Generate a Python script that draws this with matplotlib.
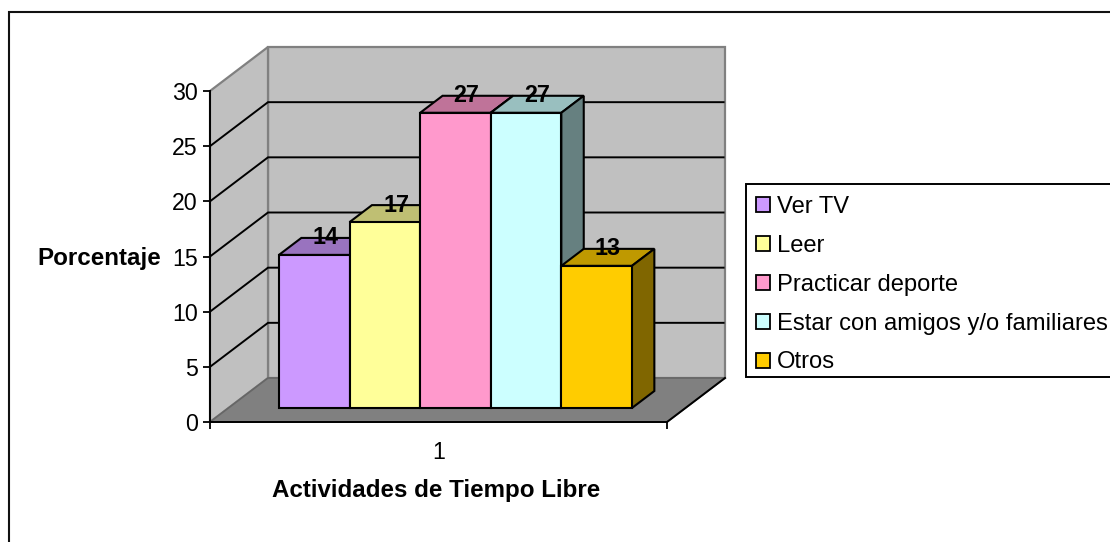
import matplotlib
matplotlib.use("Agg")
import matplotlib.pyplot as plt
from matplotlib.patches import Polygon, Rectangle, Patch

categories = ["Ver TV", "Leer", "Practicar deporte", "Estar con amigos y/o familiares", "Otros"]
values = [14, 17, 27, 27, 13]
colors = ["#CC99FF", "#FFFF99", "#FF99CC", "#CCFFFF", "#FFCC00"]
top_colors = ["#9973BF", "#BFBF73", "#BF7399", "#99BFBF", "#BF9900"]
side_colors = ["#664D80", "#808040", "#804D66", "#668080", "#806600"]
y_ticks = [0, 5, 10, 15, 20, 25, 30]
x_group_label = "1"
x_title = "Actividades de Tiempo Libre"
y_title = "Porcentaje"

W, H = 1110, 542
PX_LEFT, PX_RIGHT, PX_TOP, PX_BOTTOM = 210, 667, 91, 422
X0, X1 = -0.715, 5.758
unit_x = (PX_RIGHT - PX_LEFT) / (X1 - X0)
unit_y = (PX_BOTTOM - PX_TOP) / 30
DX = 58 / unit_x      # back wall shift in data units
DY = 44 / unit_y
D_FRONT, D_BACK = 14 / 44, 31 / 44   # bar depth range
HEIGHT_K = 0.991
FS_TICK = 16.7
FS_TITLE = 17.4
FS_LEG = 17.1
FS_DATA = 16.8

plt.rcParams["font.family"] = ["Liberation Sans", "DejaVu Sans"]
fig = plt.figure(figsize=(W / 100, H / 100), dpi=100, facecolor="white")
ax = fig.add_axes([PX_LEFT / W, 1 - PX_BOTTOM / H, (PX_RIGHT - PX_LEFT) / W, (PX_BOTTOM - PX_TOP) / H])
ax.set_xlim(X0, X1)
ax.set_ylim(0, 30)
ax.patch.set_visible(False)


def proj(x, y, d):
    return (x + d * DX, y + d * DY)


def poly(points, fc, ec, lw=1.5, z=2):
    ax.add_patch(Polygon(points, closed=True, facecolor=fc, edgecolor=ec, linewidth=lw,
                         joinstyle="miter", clip_on=False, zorder=z))


# outer chart border
fig.add_artist(Rectangle((9 / W, -10 / H), 1120 / W, (H - 12 + 10) / H, transform=fig.transFigure,
                         facecolor="none", edgecolor="#111111", linewidth=1.5))

# walls and floor
poly([proj(X0, 0, 1), proj(X1, 0, 1), proj(X1, 30, 1), proj(X0, 30, 1)], "#C0C0C0", "#808080", 1.6, 1)
poly([proj(X0, 0, 0), proj(X0, 0, 1), proj(X0, 30, 1), proj(X0, 30, 0)], "#C0C0C0", "#808080", 1.6, 1)
poly([proj(X0, 0, 0), proj(X1, 0, 0), proj(X1, 0, 1), proj(X0, 0, 1)], "#808080", "#666666", 1.2, 1.1)
ax.plot(*zip(proj(X1, 0, 0), proj(X1, 0, 1)), color="black", lw=1.4, clip_on=False, zorder=1.2)

# gridlines on walls
for t in y_ticks[1:-1]:
    ax.plot(*zip(proj(X0, t, 0), proj(X0, t, 1), proj(X1 - 0.02, t, 1)), color="black", lw=1.4,
            clip_on=False, zorder=1.2, solid_joinstyle="miter")

# bars
for i, v in enumerate(values):
    h = v * HEIGHT_K
    z = 3 + i

    def pt(x, d, top):
        px, py = proj(x, 0, d)
        return (px, py + (h if top else 0))
    poly([pt(i, D_BACK, 1), pt(i + 1, D_BACK, 1), pt(i + 1, D_FRONT, 1), pt(i, D_FRONT, 1)],
         top_colors[i], "black", 1.5, z)
    poly([pt(i + 1, D_FRONT, 0), pt(i + 1, D_BACK, 0), pt(i + 1, D_BACK, 1), pt(i + 1, D_FRONT, 1)],
         side_colors[i], "black", 1.5, z)
    poly([pt(i, D_FRONT, 0), pt(i + 1, D_FRONT, 0), pt(i + 1, D_FRONT, 1), pt(i, D_FRONT, 1)],
         colors[i], "black", 1.5, z)

for i, v in enumerate(values):
    px, py = proj(i + 0.5, 0, (D_FRONT + D_BACK) / 2)
    ax.text(px, py + v * HEIGHT_K + 0.78, str(v), ha="center", va="center", fontsize=FS_DATA,
            fontweight="bold", color="black", zorder=20)

# axes
for s in ("top", "right"):
    ax.spines[s].set_visible(False)
for s in ("left", "bottom"):
    ax.spines[s].set_linewidth(1.4)
    ax.spines[s].set_zorder(2.5)
ax.set_yticks(y_ticks)
ax.tick_params(axis="y", length=5, width=1.3, labelsize=FS_TICK, pad=4)
ax.set_xticks([X0, X1], ["", ""])
ax.tick_params(axis="x", which="major", length=5, width=1.3)
ax.set_xticks([(X0 + X1) / 2], [x_group_label], minor=True)
ax.tick_params(axis="x", which="minor", length=0, labelsize=FS_TICK, pad=14)
ax.set_xlabel(x_title, fontsize=FS_TITLE, fontweight="bold")
ax.xaxis.set_label_coords(0.495, -69 / (PX_BOTTOM - PX_TOP), transform=ax.transAxes)
ax.xaxis.label.set_va("center")
ax.set_ylabel(y_title, fontsize=FS_TITLE, fontweight="bold", rotation=0, ha="right", va="center")
ax.yaxis.set_label_coords((161 - PX_LEFT) / (PX_RIGHT - PX_LEFT), (PX_BOTTOM - 259) / (PX_BOTTOM - PX_TOP),
                          transform=ax.transAxes)

# legend: separate frame box so its height can be set independently of the rows
fig.add_artist(Rectangle((746 / W, 1 - 377 / H), 380 / W, 193 / H, transform=fig.transFigure,
                         facecolor="white", edgecolor="black", linewidth=1.4))
handles = [Patch(facecolor=c, edgecolor="black", linewidth=1.3) for c in colors]
leg = fig.legend(handles, categories, loc="upper left", bbox_to_anchor=(746 / W, 1 - 186 / H),
                 borderaxespad=0, fontsize=FS_LEG, frameon=False,
                 handlelength=0.6, handleheight=0.6, handletextpad=0.3,
                 labelspacing=0.71, borderpad=0.42)

fig.savefig("out.png", dpi=100)
